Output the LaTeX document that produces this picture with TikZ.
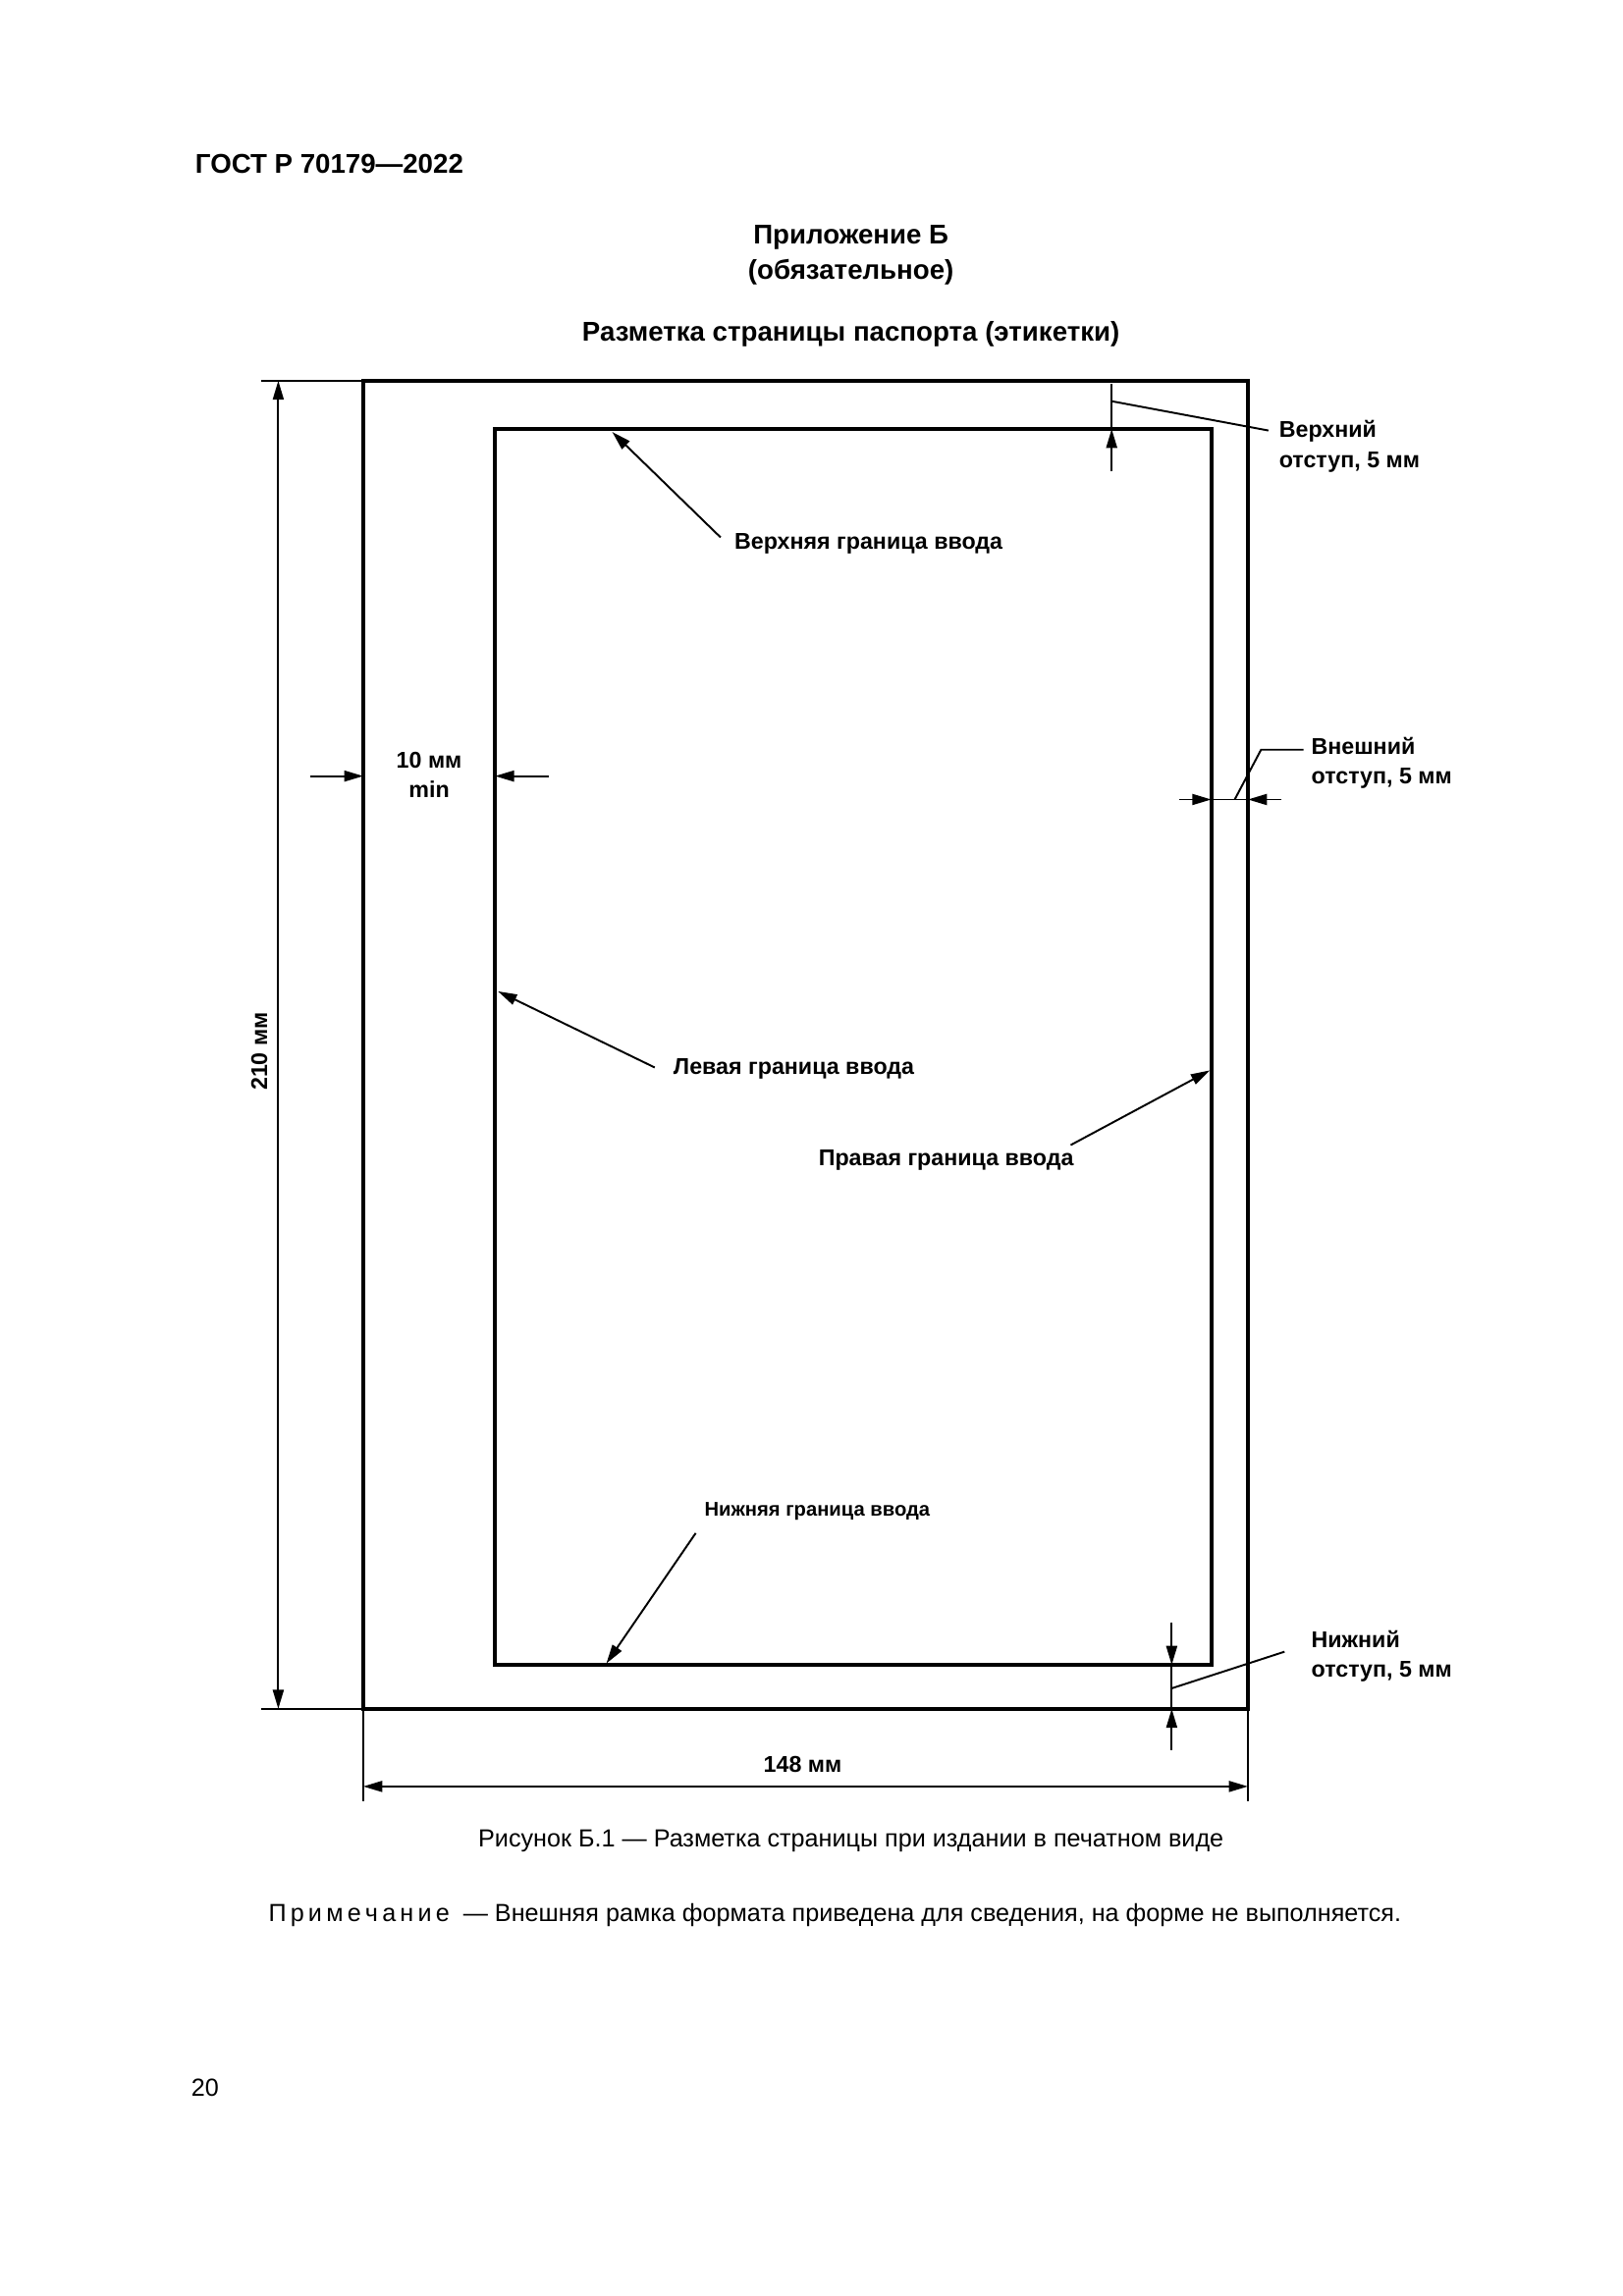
\documentclass[tikz,border=0pt]{standalone}
\usepackage{fontspec}
\setmainfont{Liberation Sans}
\usetikzlibrary{arrows.meta}
\tikzset{
  frame/.style = {draw, line width=1.4pt},
  dim/.style = {draw, line width=0.7pt, -{Triangle[length=7pt,width=4pt]}},
  dimboth/.style = {draw, line width=0.7pt, {Triangle[length=7pt,width=4pt]}-{Triangle[length=7pt,width=4pt]}},
  thin/.style = {draw, line width=0.7pt},
  label/.style = {font=\bfseries\fontsize{8.4}{11}\selectfont, align=left, inner sep=0pt},
  plain/.style = {font=\fontsize{9.1}{11}\selectfont, inner sep=0pt},
  head/.style = {font=\bfseries\fontsize{10}{13}\selectfont, align=center, inner sep=0pt}
}
\begin{document}
\begin{tikzpicture}[x=0.018953cm, y=-0.018953cm]
  \useasboundingbox (0,0) rectangle (1108,1568);
  % headings
  \node [head, anchor=west] (gost) at (133,112) {ГОСТ Р 70179—2022};
  \node [head] (app) at (581,174) {Приложение Б\\(обязательное)};
  \node [head] (title) at (581,228) {Разметка страницы паспорта (этикетки)};
  % frames
  \coordinate (o1) at (248,260);
  \coordinate (o2) at (852,1167);
  \coordinate (i1) at (338,293);
  \coordinate (i2) at (827,1137);
  \draw [frame] (o1) rectangle (o2);
  \draw [frame] (i1) rectangle (i2);
  % top offset
  \coordinate (tt) at (759,262);
  \coordinate (tb) at (759,322);
  \coordinate (ti) at (759,293);
  \coordinate (tl) at (759,274);
  \coordinate (te) at (866,294);
  \draw [thin] (tt) -- (ti);
  \draw [dim] (tb) -- (ti);
  \draw [thin] (tl) -- (te);
  \node [label, anchor=west] (top) at (873,305) {Верхний\\отступ, 5 мм};
  % outer offset
  \coordinate (ea) at (805,546);
  \coordinate (eb) at (827,546);
  \coordinate (ec) at (852,546);
  \coordinate (ed) at (875,546);
  \coordinate (em) at (843,546);
  \coordinate (ek) at (861,512);
  \coordinate (ef) at (890,512);
  \draw [dim] (ea) -- (eb);
  \draw [dim] (ed) -- (ec);
  \draw [thin] (eb) -- (ec);
  \draw [thin] (em) -- (ek) -- (ef);
  \node [label, anchor=west] (ext) at (895,521) {Внешний\\отступ, 5 мм};
  % left margin
  \coordinate (la) at (212,530);
  \coordinate (lb) at (248,530);
  \coordinate (lc) at (375,530);
  \coordinate (ld) at (338,530);
  \draw [dim] (la) -- (lb);
  \draw [dim] (lc) -- (ld);
  \node [label, align=center] (left) at (293,529) {10 мм\\min};
  % height
  \coordinate (ha) at (178,260);
  \coordinate (hb) at (178,1167);
  \coordinate (h1) at (190,260);
  \coordinate (h2) at (190,1167);
  \draw [thin] (ha) -- (o1);
  \draw [thin] (hb) -- (o2 -| o1);
  \draw [dimboth] (h1) -- (h2);
  \node [label, rotate=90] (height) at (177,718) {210 мм};
  % width
  \coordinate (wa) at (248,1230);
  \coordinate (wb) at (852,1230);
  \coordinate (w1) at (248,1220);
  \coordinate (w2) at (852,1220);
  \draw [thin] (o2 -| o1) -- (wa);
  \draw [thin] (o2) -- (wb);
  \draw [dimboth] (w1) -- (w2);
  \node [label] (width) at (548,1205) {148 мм};
  % bottom offset
  \coordinate (ba) at (800,1108);
  \coordinate (bb) at (800,1137);
  \coordinate (bc) at (800,1167);
  \coordinate (bd) at (800,1195);
  \coordinate (bm) at (800,1153);
  \coordinate (be) at (877,1128);
  \draw [dim] (ba) -- (bb);
  \draw [dim] (bd) -- (bc);
  \draw [thin] (bb) -- (bc);
  \draw [thin] (bm) -- (be);
  \node [label, anchor=west] (bottom) at (895,1131) {Нижний\\отступ, 5 мм};
  % input borders
  \node [label] (topb) at (593,371) {Верхняя граница ввода};
  \coordinate (topa) at (492,367);
  \coordinate (topt) at (418,295);
  \draw [dim] (topa) -- (topt);
  \node [label] (leftb) at (542,730) {Левая граница ввода};
  \coordinate (lefta) at (447,729);
  \coordinate (leftt) at (340,677);
  \draw [dim] (lefta) -- (leftt);
  \node [label] (rightb) at (646,792) {Правая граница ввода};
  \coordinate (righta) at (731,782);
  \coordinate (rightt) at (826,731);
  \draw [dim] (righta) -- (rightt);
  \node [label, font=\bfseries\fontsize{7.3}{9}\selectfont] (botb) at (558,1032) {Нижняя граница ввода};
  \coordinate (bota) at (475,1047);
  \coordinate (bott) at (414,1136);
  \draw [dim] (bota) -- (bott);
  % caption and note
  \node [plain] (caption) at (581,1257) {Рисунок Б.1 — Разметка страницы при издании в печатном виде};
  \node [plain] (note) at (570,1308) {П\,р\,и\,м\,е\,ч\,а\,н\,и\,е\ \ — Внешняя рамка формата приведена для сведения, на форме не выполняется.};
  \node [plain] (page) at (140,1426) {20};
\end{tikzpicture}
\end{document}
